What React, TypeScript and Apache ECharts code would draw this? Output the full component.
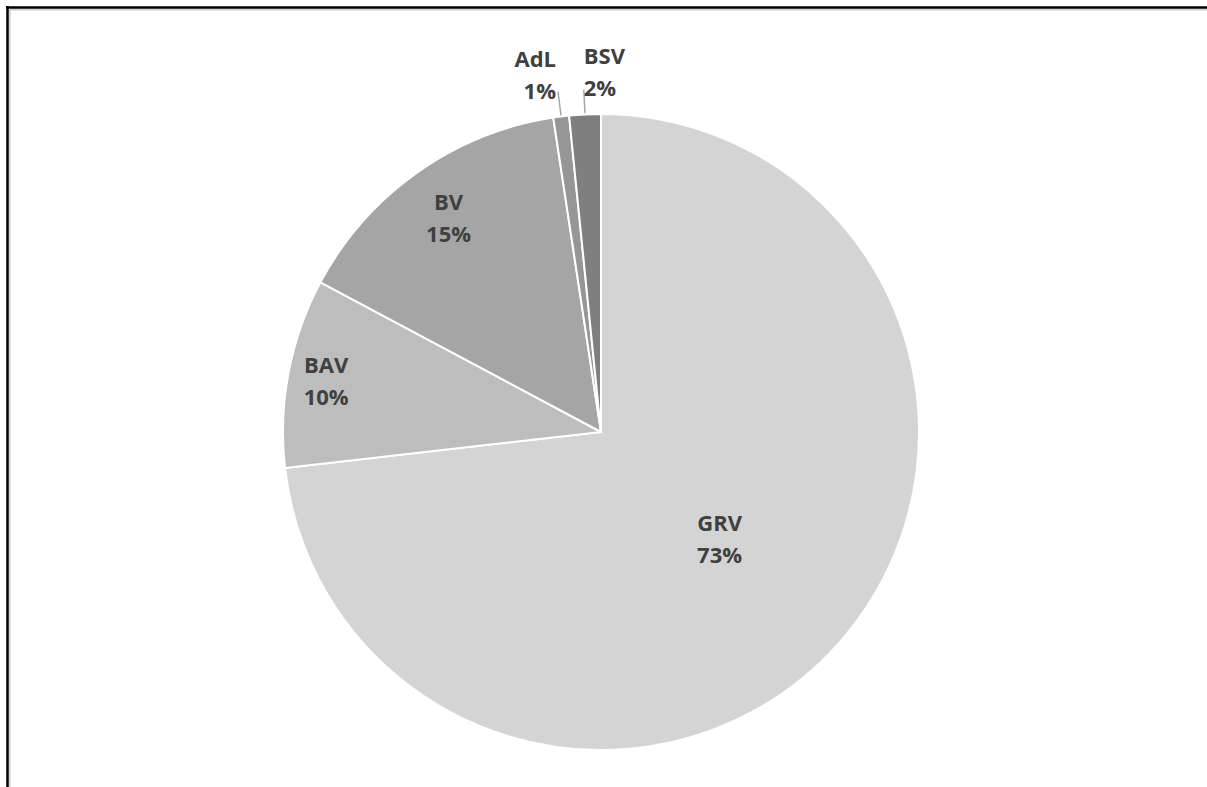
import React, { useEffect, useRef } from "react";
import * as echarts from "echarts";

const categories = ["GRV", "BAV", "BV", "AdL", "BSV"];
const values = [73.2, 9.6, 14.8, 0.8, 1.6];
const colors = ["#d4d4d4", "#bdbdbd", "#a5a5a5", "#969696", "#7f7f7f"];
// radial placement of each label as a fraction of the radius (inside) or outside
const labelRadiusFrac = [0.5, 0.88, 0.83, 1.08, 1.08];
const outside = [false, false, false, true, true];

const W = 1207;
const H = 787;
const CX = 601;
const CY = 432;
const R = 318;

export default function App() {
  const ref = useRef<HTMLDivElement>(null);
  useEffect(() => {
    if (!ref.current) return;
    const chart = echarts.init(ref.current, undefined, { renderer: "svg" });
    const total = values.reduce((a, b) => a + b, 0);
    const mids: number[] = [];
    let acc = 0;
    values.forEach((v) => {
      mids.push((acc + v / 2) / total);
      acc += v;
    });
    const data = categories.map((name, i) => ({
      name,
      value: values[i],
      itemStyle: { color: colors[i] },
      label: outside[i] ? { position: "outside" } : { position: "inside" },
      labelLine: { show: outside[i] },
    }));
    chart.setOption({
      animation: false,
      backgroundColor: "#ffffff",
      graphic: [
        { type: "line", shape: { x1: 6, y1: 7.5, x2: W, y2: 7.5 }, style: { stroke: "#000", lineWidth: 2.5 } },
        { type: "line", shape: { x1: 9, y1: 9.8, x2: W, y2: 9.8 }, style: { stroke: "#cfcfcf", lineWidth: 1.5 } },
        { type: "line", shape: { x1: 7.5, y1: 6, x2: 7.5, y2: H }, style: { stroke: "#000", lineWidth: 2.5 } },
        { type: "line", shape: { x1: 9.8, y1: 9, x2: 9.8, y2: H }, style: { stroke: "#cfcfcf", lineWidth: 1.5 } },
      ],
      series: [
        {
          type: "pie",
          center: [CX, CY],
          radius: [0, R],
          startAngle: 90,
          clockwise: true,
          avoidLabelOverlap: false,
          data,
          itemStyle: { borderColor: "#ffffff", borderWidth: 2 },
          label: {
            show: true,
            color: "#404040",
            fontFamily: "Open Sans",
            fontWeight: "bold",
            fontSize: 22,
            lineHeight: 32,
            formatter: (p: any) => `${p.name}\n${Math.round((p.value / total) * 100)}%`,
          },
          labelLine: {
            show: true,
            length: 24,
            length2: 0,
            lineStyle: { color: "#a6a6a6", width: 1.5 },
          },
          labelLayout: (p: any) => {
            const i = p.dataIndex;
            const a = mids[i] * Math.PI * 2;
            const s = Math.sin(a);
            const c = Math.cos(a);
            if (!outside[i]) {
              const rr = R * labelRadiusFrac[i];
              return { x: CX + rr * s, y: CY - rr * c, align: "center", verticalAlign: "middle" };
            }
            const r1 = R + 1;
            const r2 = R + 25;
            const x1 = CX + r1 * s;
            const y1 = CY - r1 * c;
            const x2 = CX + r2 * s;
            const y2 = CY - r2 * c;
            return {
              x: x2 + (i === 3 ? -2 : 0),
              y: y2 + 14,
              align: i === 3 ? "right" : "left",
              verticalAlign: "bottom",
              labelLinePoints: [
                [x1, y1],
                [x2, y2],
                [x2, y2],
              ],
            };
          },
        },
      ],
    });
    return () => chart.dispose();
  }, []);
  return (
    <div
      ref={ref}
      style={{ position: "fixed", left: 0, top: 0, width: W, height: H }}
    />
  );
}
